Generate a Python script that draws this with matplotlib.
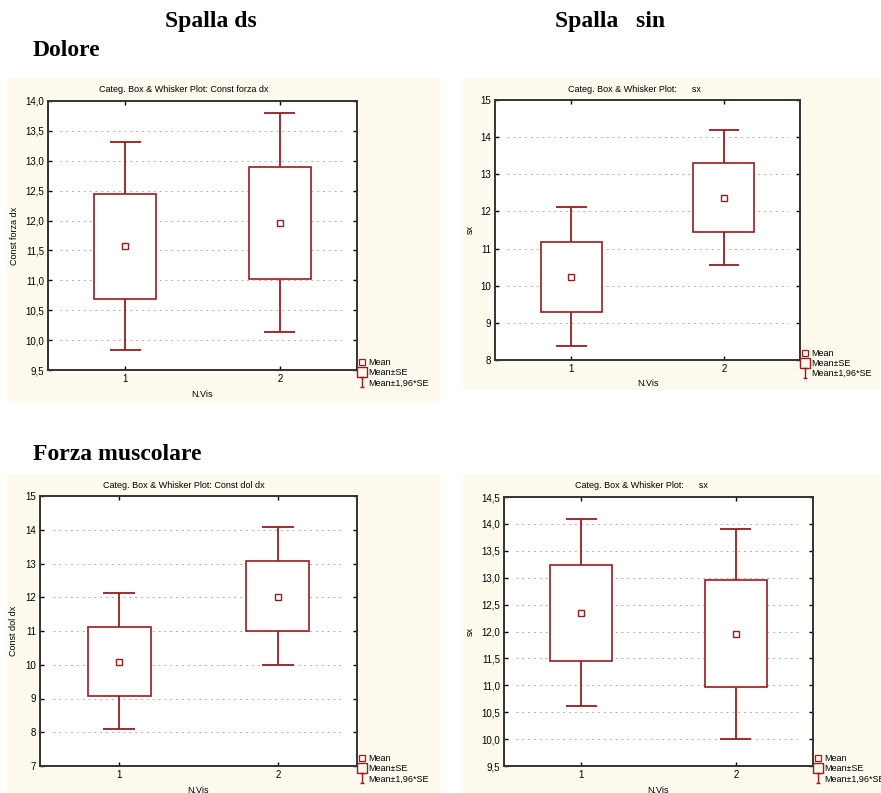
import matplotlib.pyplot as plt
from matplotlib.lines import Line2D
from matplotlib.patches import Rectangle
from matplotlib.path import Path
from matplotlib.ticker import FuncFormatter, MultipleLocator

plt.rcParams.update({
    "font.family": ["Liberation Sans", "DejaVu Sans"],
    "font.size": 7,
})

W, H = 881, 793
DARK_RED = "#9b1b1e"
CREAM = "#fefaee"

# -------------------------------
# DATA
# -------------------------------
groups = [1, 2]

dolore_dx_mean = [11.57, 11.96]
dolore_dx_se = [(10.69, 12.45), (11.03, 12.89)]
dolore_dx_ci = [(9.84, 13.32), (10.13, 13.80)]

dolore_sx_mean = [10.23, 12.37]
dolore_sx_se = [(9.28, 11.19), (11.45, 13.31)]
dolore_sx_ci = [(8.37, 12.12), (10.57, 14.20)]

forza_dx_mean = [10.08, 12.02]
forza_dx_se = [(9.08, 11.12), (11.00, 13.08)]
forza_dx_ci = [(8.10, 12.12), (10.00, 14.08)]

forza_sx_mean = [12.34, 11.95]
forza_sx_se = [(11.46, 13.24), (10.97, 12.95)]
forza_sx_ci = [(10.61, 14.10), (10.01, 13.91)]

legend_labels = ["Mean", "Mean±SE", "Mean±1,96*SE"]


def px_rect(x0, y0, x1, y1):
    # pixel box (top-left origin) -> figure fraction [l, b, w, h]
    return [x0 / W, 1 - y1 / H, (x1 - x0) / W, (y1 - y0) / H]


fig = plt.figure(figsize=(W / 100, H / 100), dpi=100)
fig.patch.set_facecolor("white")

# cream panels behind each chart
for (x0, y0, x1, y1) in [(7, 78, 440, 403), (463, 78, 880, 390),
                         (7, 474, 440, 793), (463, 474, 881, 793)]:
    l, b, w, h = px_rect(x0, y0, x1, y1)
    fig.patches.append(Rectangle((l, b), w, h, transform=fig.transFigure,
                                 facecolor=CREAM, edgecolor="none", zorder=-5))

# headings
head = dict(family="Liberation Serif", weight="bold", fontsize=17, va="center")
fig.text(211 / W, 1 - 21 / H, "Spalla ds", ha="center", **head)
fig.text(610 / W, 1 - 21 / H, "Spalla   sin", ha="center", **head)
fig.text(33 / W, 1 - 50 / H, "Dolore", ha="left", **head)
fig.text(33 / W, 1 - 455 / H, "Forza muscolare", ha="left", **head)

whisker_marker = Path([(-0.5, -1), (0.5, -1), (0, -1), (0, 1), (-0.5, 1), (0.5, 1)],
                      [Path.MOVETO, Path.LINETO, Path.MOVETO, Path.LINETO,
                       Path.MOVETO, Path.LINETO])


def comma_fmt(decimals):
    return FuncFormatter(lambda v, pos: f"{v:.{decimals}f}".replace(".", ","))


def box_whisker(rect_px, means, se, ci, ylim, step, decimals, title, title_px,
                ylabel, ylab_x):
    ax = fig.add_axes(px_rect(*rect_px))
    ax.set_zorder(2)
    ax.set_facecolor("white")
    ax.set_xlim(0.5, 2.5)
    ax.set_ylim(*ylim)

    # dotted gridlines
    ax.yaxis.set_major_locator(MultipleLocator(step))
    for t in ax.get_yticks():
        if ylim[0] < t < ylim[1]:
            ax.axhline(t, xmin=0.04, xmax=0.96, color="#b0b0b0",
                       linestyle=(0, (2, 4)), linewidth=0.7, zorder=0)

    for g, m, (slo, shi), (clo, chi) in zip(groups, means, se, ci):
        ax.vlines(g, clo, slo, color=DARK_RED, linewidth=1.3, zorder=2)
        ax.vlines(g, shi, chi, color=DARK_RED, linewidth=1.3, zorder=2)
        ax.hlines([clo, chi], g - 0.1, g + 0.1, color=DARK_RED,
                  linewidth=1.3, zorder=2)
        ax.add_patch(Rectangle((g - 0.2, slo), 0.4, shi - slo, facecolor="white",
                               edgecolor=DARK_RED, linewidth=1.2, zorder=3))
        ax.plot(g, m, marker="s", markersize=4.5, markerfacecolor="white",
                markeredgecolor=DARK_RED, markeredgewidth=1.0, zorder=4)

    ax.set_xticks(groups)
    ax.yaxis.set_major_formatter(comma_fmt(decimals))
    ax.tick_params(direction="in", length=3, width=1, top=True, right=True,
                   labelsize=7, pad=3, color="black")
    for s in ax.spines.values():
        s.set_color("#333333")
        s.set_linewidth(1.4)

    ax.set_ylabel(ylabel, fontsize=6.5)
    ax.yaxis.set_label_coords(ylab_x, 0.5)
    ax.set_xlabel("N.Vis", fontsize=6.5)
    ax.xaxis.set_label_coords(0.5, -0.075)

    fig.text(title_px[0] / W, 1 - title_px[1] / H, title, fontsize=6.5,
             ha="center", va="center", zorder=3)

    handles = [
        Line2D([], [], linestyle="none", marker="s", markersize=4,
               markerfacecolor="none", markeredgecolor=DARK_RED, markeredgewidth=0.9),
        Line2D([], [], linestyle="none", marker="s", markersize=7,
               markerfacecolor="none", markeredgecolor=DARK_RED, markeredgewidth=1.0),
        Line2D([], [], linestyle="none", marker=whisker_marker, markersize=7,
               markerfacecolor="none", markeredgecolor=DARK_RED, markeredgewidth=1.0),
    ]
    ax.legend(handles, legend_labels, loc="upper left", bbox_to_anchor=(1.0, 0.05),
              frameon=False, fontsize=6.5, handlelength=0.8, handletextpad=0.3,
              labelspacing=0.12, borderpad=0, borderaxespad=0.2)
    return ax


box_whisker((48, 101, 357, 370), dolore_dx_mean, dolore_dx_se, dolore_dx_ci,
            (9.5, 14.0), 0.5, 1, "Categ. Box & Whisker Plot: Const forza dx",
            (184, 90), "Const forza dx", -0.094)
box_whisker((495, 100, 800, 360), dolore_sx_mean, dolore_sx_se, dolore_sx_ci,
            (8, 15), 1, 0, "Categ. Box & Whisker Plot:      sx",
            (634, 89), "sx", -0.066)
box_whisker((40, 496, 357, 766), forza_dx_mean, forza_dx_se, forza_dx_ci,
            (7, 15), 1, 0, "Categ. Box & Whisker Plot: Const dol dx",
            (184, 485), "Const dol dx", -0.069)
box_whisker((504, 497, 813, 766), forza_sx_mean, forza_sx_se, forza_sx_ci,
            (9.5, 14.5), 0.5, 1, "Categ. Box & Whisker Plot:      sx",
            (641, 485), "sx", -0.094)

fig.savefig("out.png", dpi=100)
